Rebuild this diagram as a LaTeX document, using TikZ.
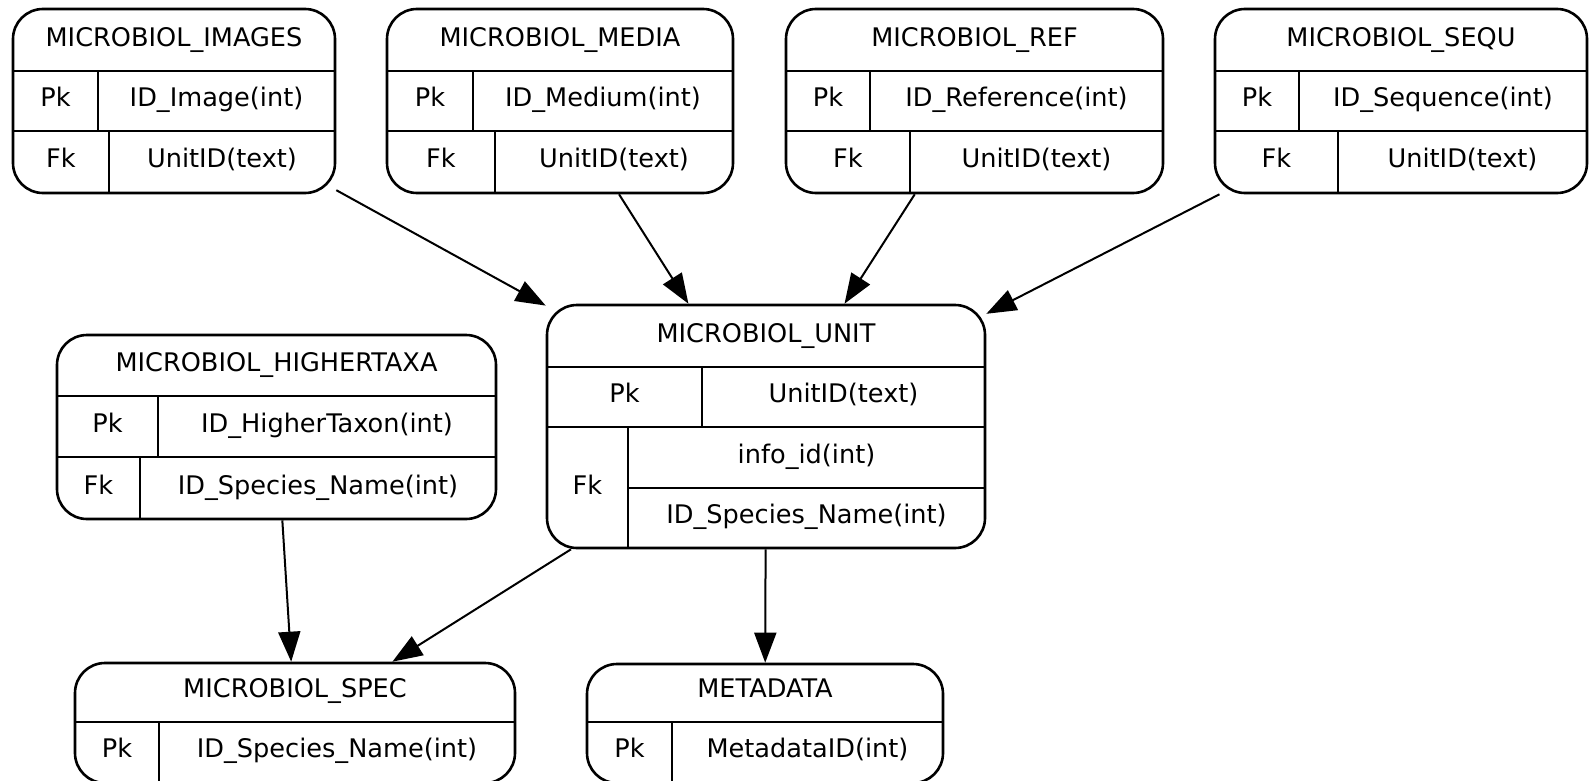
\documentclass[tikz,border=0pt]{standalone}
\usepackage{fontspec}
\setmainfont{DejaVu Sans}
\usetikzlibrary{arrows.meta,fit}
\tikzset{every picture/.style={line width=1.3pt}}

\begin{document}
\begin{tikzpicture}[x=0.5pt,y=-0.5pt,
    tablebox/.style={draw, rounded corners=15pt, inner sep=0pt},
    cell/.style={anchor=base, inner sep=0pt, font=\fontsize{12.8}{15}\selectfont},
    fkarrow/.style={line width=1pt, -{Triangle[length=15pt,width=11pt]}}]
    %set diagram size to 1589 x 781 px
    \useasboundingbox (0,0) rectangle (1589,781);
    \clip (0,0) rectangle (1589,781);
    \fill[white] (0,0) rectangle (1589,781);

    %Table: MICROBIOL_IMAGES
    \node[tablebox, fit={(13,9) (335,193)}] (images) {};
    \draw (13,71) -- (335,71) (13,131) -- (335,131);
    \draw (98,71) -- (98,131) (109,131) -- (109,193);
    % Text Node
    \node[cell] (images-title) at (174,47) {MICROBIOL\_IMAGES};
    \node[cell] (images-pk) at (55.5,106) {Pk};
    \node[cell] (images-pkf) at (216.5,106) {ID\_Image(int)};
    \node[cell] (images-fk) at (61,167) {Fk};
    \node[cell] (images-fkf) at (222,167) {UnitID(text)};

    %Table: MICROBIOL_MEDIA
    \node[tablebox, fit={(387,9) (733,193)}] (media) {};
    \draw (387,71) -- (733,71) (387,131) -- (733,131);
    \draw (473,71) -- (473,131) (495,131) -- (495,193);
    % Text Node
    \node[cell] (media-title) at (560,47) {MICROBIOL\_MEDIA};
    \node[cell] (media-pk) at (430,106) {Pk};
    \node[cell] (media-pkf) at (603,106) {ID\_Medium(int)};
    \node[cell] (media-fk) at (441,167) {Fk};
    \node[cell] (media-fkf) at (614,167) {UnitID(text)};

    %Table: MICROBIOL_REF
    \node[tablebox, fit={(786,9) (1163,193)}] (ref) {};
    \draw (786,71) -- (1163,71) (786,131) -- (1163,131);
    \draw (870,71) -- (870,131) (910,131) -- (910,193);
    % Text Node
    \node[cell] (ref-title) at (974.5,47) {MICROBIOL\_REF};
    \node[cell] (ref-pk) at (828,106) {Pk};
    \node[cell] (ref-pkf) at (1016.5,106) {ID\_Reference(int)};
    \node[cell] (ref-fk) at (848,167) {Fk};
    \node[cell] (ref-fkf) at (1036.5,167) {UnitID(text)};

    %Table: MICROBIOL_SEQU
    \node[tablebox, fit={(1215,9) (1587,193)}] (sequ) {};
    \draw (1215,71) -- (1587,71) (1215,131) -- (1587,131);
    \draw (1299,71) -- (1299,131) (1338,131) -- (1338,193);
    % Text Node
    \node[cell] (sequ-title) at (1401,47) {MICROBIOL\_SEQU};
    \node[cell] (sequ-pk) at (1257,106) {Pk};
    \node[cell] (sequ-pkf) at (1443,106) {ID\_Sequence(int)};
    \node[cell] (sequ-fk) at (1276.5,167) {Fk};
    \node[cell] (sequ-fkf) at (1462.5,167) {UnitID(text)};

    %Table: MICROBIOL_UNIT
    \node[tablebox, fit={(547,305) (985,548)}] (unit) {};
    \draw (547,367) -- (985,367) (547,427) -- (985,427) (628,488) -- (985,488);
    \draw (702,367) -- (702,427) (628,427) -- (628,548);
    % Text Node
    \node[cell] (unit-title) at (766,342) {MICROBIOL\_UNIT};
    \node[cell] (unit-pk) at (624.5,402) {Pk};
    \node[cell] (unit-pkf) at (843.5,402) {UnitID(text)};
    \node[cell] (unit-fk) at (587.5,494) {Fk};
    \node[cell] (unit-fkf1) at (806.5,463) {info\_id(int)};
    \node[cell] (unit-fkf2) at (806.5,523) {ID\_Species\_Name(int)};

    %Table: MICROBIOL_HIGHERTAXA
    \node[tablebox, fit={(57,335) (496,519)}] (highertaxa) {};
    \draw (57,396) -- (496,396) (57,457) -- (496,457);
    \draw (158,396) -- (158,457) (140,457) -- (140,519);
    % Text Node
    \node[cell] (highertaxa-title) at (276.5,371) {MICROBIOL\_HIGHERTAXA};
    \node[cell] (highertaxa-pk) at (107.5,432) {Pk};
    \node[cell] (highertaxa-pkf) at (327,432) {ID\_HigherTaxon(int)};
    \node[cell] (highertaxa-fk) at (98.5,494) {Fk};
    \node[cell] (highertaxa-fkf) at (318,494) {ID\_Species\_Name(int)};

    %Table: MICROBIOL_SPEC
    \node[tablebox, fit={(75,663) (515,783)}] (spec) {};
    \draw (75,722) -- (515,722);
    \draw (159,722) -- (159,783);
    % Text Node
    \node[cell] (spec-title) at (295,697) {MICROBIOL\_SPEC};
    \node[cell] (spec-pk) at (117,757) {Pk};
    \node[cell] (spec-pkf) at (337,757) {ID\_Species\_Name(int)};

    %Table: METADATA
    \node[tablebox, fit={(587,664) (943,783)}] (metadata) {};
    \draw (587,722) -- (943,722);
    \draw (672,722) -- (672,783);
    % Text Node
    \node[cell] (metadata-title) at (765,697) {METADATA};
    \node[cell] (metadata-pk) at (629.5,757) {Pk};
    \node[cell] (metadata-pkf) at (807.5,757) {MetadataID(int)};

    %Straight Lines: foreign keys
    \draw[fkarrow] (images) -- (unit);
    \draw[fkarrow] (media) -- (unit);
    \draw[fkarrow] (ref) -- (unit);
    \draw[fkarrow] (sequ) -- (unit);
    \draw[fkarrow] (highertaxa) -- (spec);
    \draw[fkarrow] (unit) -- (spec);
    \draw[fkarrow] (unit) -- (metadata);
\end{tikzpicture}
\end{document}
